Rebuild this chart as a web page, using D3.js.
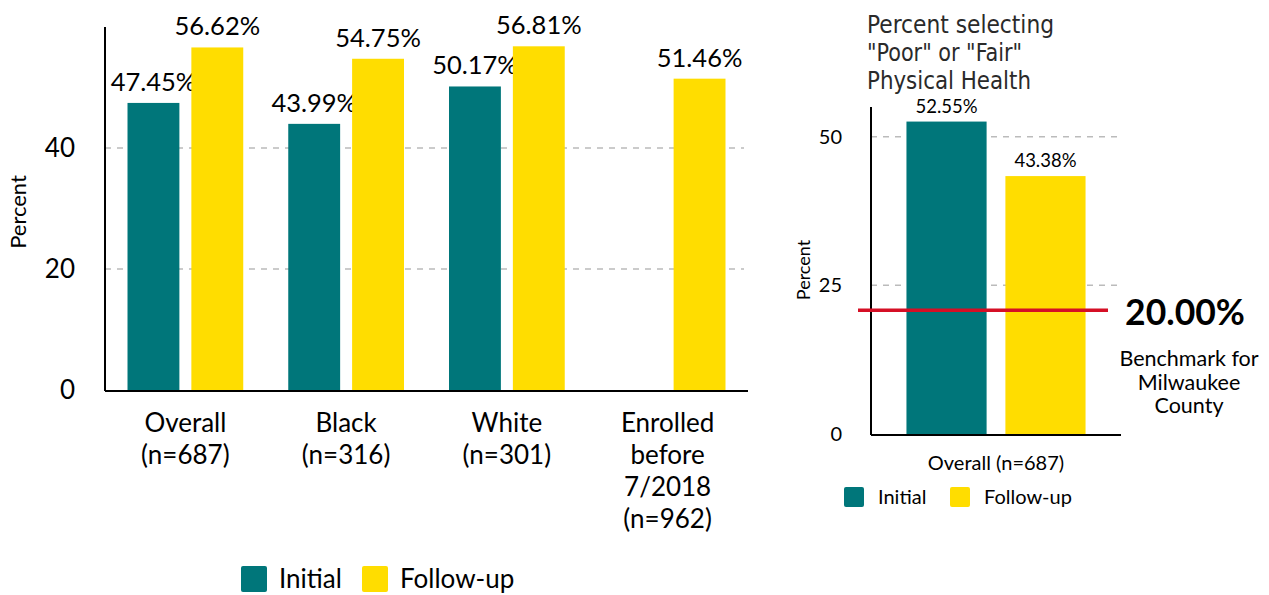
<!DOCTYPE html>
<html>
<head>
<meta charset="utf-8">
<script src="https://cdn.jsdelivr.net/npm/d3@7"></script>
<style>
  body { margin: 0; background: #fff; }
  svg { display: block; font-family: Lato, "Open Sans", sans-serif; }
</style>
</head>
<body>
<svg id="chart" width="1269" height="595"></svg>
<script>
// left chart data
const groups = ["Overall\n(n=687)", "Black\n(n=316)", "White\n(n=301)", "Enrolled\nbefore\n7/2018\n(n=962)"];
const initialVals = [47.45, 43.99, 50.17, null];
const followVals = [56.62, 54.75, 56.81, 51.46];
const leftTicks = [0, 20, 40];

// right chart data
const rightGroups = ["Overall (n=687)"];
const rightInitial = [52.55];
const rightFollow = [43.38];
const rightTicks = [0, 25, 50];
const benchmarkLabel = "20.00%";
const benchmarkLine = 20.8; // where the red rule sits in the picture
const benchmarkText = ["Benchmark for", "Milwaukee", "County"];
const titleLines = ["Percent selecting", "\"Poor\" or \"Fair\"", "Physical Health"];
const titleWidths = [187, 155, 164];

const series = ["Initial", "Follow-up"];
const colors = {"Initial": "#00767A", "Follow-up": "#FFDD00"};

const svg = d3.select("#chart");
const fmt = d => d.toFixed(2) + "%";

// ---------- left chart ----------
const L = {x0: 105, x1: 748, y0: 390, y1: 27};
const xL = d3.scaleBand().domain(groups).range([L.x0, L.x1]).paddingInner(0.28).paddingOuter(0.14);
const xL2 = d3.scaleBand().domain(series).range([0, xL.bandwidth()]).paddingInner(0.1875);
const yL = d3.scaleLinear().domain([0, 60]).range([L.y0, L.y1]);

const left = svg.append("g");

left.append("g")
  .selectAll("line")
  .data(leftTicks.filter(d => d > 0))
  .join("line")
  .attr("x1", L.x0).attr("x2", 744)
  .attr("y1", d => yL(d)).attr("y2", d => yL(d))
  .attr("stroke", "#bbb").attr("stroke-width", 1.5)
  .attr("stroke-dasharray", "6,6");

left.append("g")
  .selectAll("text")
  .data(leftTicks)
  .join("text")
  .attr("x", L.x0 - 30)
  .attr("y", d => yL(d))
  .attr("dy", "0.35em")
  .attr("text-anchor", "end")
  .attr("font-size", 26)
  .text(d => d);

const leftRows = groups.map((g, i) => ({g, vals: [initialVals[i], followVals[i]]}));
const gL = left.append("g").selectAll("g")
  .data(leftRows)
  .join("g")
  .attr("transform", d => `translate(${xL(d.g)},0)`);

const barsL = gL.selectAll("g")
  .data(d => series.map((s, j) => ({s, v: d.vals[j]})).filter(e => e.v != null))
  .join("g");

barsL.append("rect")
  .attr("x", d => xL2(d.s))
  .attr("width", xL2.bandwidth())
  .attr("y", d => yL(d.v))
  .attr("height", d => yL(0) - yL(d.v))
  .attr("fill", d => colors[d.s]);

barsL.append("text")
  .attr("x", d => xL2(d.s) + xL2.bandwidth() / 2)
  .attr("y", d => yL(d.v) - 12)
  .attr("text-anchor", "middle")
  .attr("font-size", 25.5)
  .text(d => fmt(d.v));

left.append("line")
  .attr("x1", L.x0).attr("x2", L.x0)
  .attr("y1", L.y1).attr("y2", L.y0 + 1)
  .attr("stroke", "#000").attr("stroke-width", 2);
left.append("line")
  .attr("x1", L.x0).attr("x2", L.x1)
  .attr("y1", L.y0 + 1).attr("y2", L.y0 + 1)
  .attr("stroke", "#000").attr("stroke-width", 2);

left.append("g")
  .selectAll("text")
  .data(groups)
  .join("text")
  .attr("x", d => xL(d) + xL.bandwidth() / 2)
  .attr("y", 432)
  .attr("text-anchor", "middle")
  .attr("font-size", 26)
  .each(function(d) {
    d3.select(this).selectAll("tspan")
      .data(d.split("\n"))
      .join("tspan")
      .attr("x", xL(d) + xL.bandwidth() / 2)
      .attr("dy", (t, i) => i ? 32 : 0)
      .text(t => t);
  });

left.append("text")
  .attr("transform", "translate(26,212) rotate(-90)")
  .attr("text-anchor", "middle")
  .attr("font-size", 22)
  .text("Percent");

const legL = left.append("g").attr("transform", "translate(241,566)");
[{s: "Initial", x: 0}, {s: "Follow-up", x: 121}].forEach(d => {
  legL.append("rect").attr("x", d.x).attr("width", 26).attr("height", 26)
    .attr("rx", 2).attr("fill", colors[d.s]);
  legL.append("text").attr("x", d.x + 38).attr("y", 13).attr("dy", "0.35em")
    .attr("font-size", 26).text(d.s);
});

// ---------- right chart ----------
const R = {x0: 871, x1: 1121, y0: 434, y1: 107};
const xR = d3.scaleBand().domain(rightGroups).range([R.x0, R.x1]).paddingInner(0).paddingOuter(0.198);
const xR2 = d3.scaleBand().domain(series).range([0, xR.bandwidth()]).paddingInner(0.19);
const yR = d3.scaleLinear().domain([0, 55]).range([R.y0, R.y1]);

const right = svg.append("g");

right.append("g")
  .selectAll("text")
  .data(titleLines)
  .join("text")
  .attr("x", 867)
  .attr("y", (d, i) => 33 + i * 28)
  .attr("font-family", "'DejaVu Sans Condensed', 'DejaVu Sans', sans-serif")
  .attr("font-stretch", "condensed")
  .attr("font-weight", 300)
  .attr("font-size", 25)
  .attr("textLength", (d, i) => titleWidths[i])
  .attr("lengthAdjust", "spacingAndGlyphs")
  .attr("fill", "#2a2a2a")
  .text(d => d);

right.append("g")
  .selectAll("line")
  .data(rightTicks.filter(d => d > 0))
  .join("line")
  .attr("x1", R.x0).attr("x2", 1118)
  .attr("y1", d => yR(d)).attr("y2", d => yR(d))
  .attr("stroke", "#bbb").attr("stroke-width", 1.5)
  .attr("stroke-dasharray", "6,6");

right.append("g")
  .selectAll("text")
  .data(rightTicks)
  .join("text")
  .attr("x", R.x0 - 29)
  .attr("y", d => yR(d))
  .attr("dy", "0.35em")
  .attr("text-anchor", "end")
  .attr("font-size", 20)
  .text(d => d);

const rightRows = rightGroups.map((g, i) => ({g, vals: [rightInitial[i], rightFollow[i]]}));
const gR = right.append("g").selectAll("g")
  .data(rightRows)
  .join("g")
  .attr("transform", d => `translate(${xR(d.g)},0)`);

const barsR = gR.selectAll("g")
  .data(d => series.map((s, j) => ({s, v: d.vals[j]})))
  .join("g");

barsR.append("rect")
  .attr("x", d => xR2(d.s))
  .attr("width", xR2.bandwidth())
  .attr("y", d => yR(d.v))
  .attr("height", d => yR(0) - yR(d.v))
  .attr("fill", d => colors[d.s]);

barsR.append("text")
  .attr("x", d => xR2(d.s) + xR2.bandwidth() / 2)
  .attr("y", d => yR(d.v) - 9)
  .attr("text-anchor", "middle")
  .attr("font-size", 18.5)
  .text(d => fmt(d.v));

right.append("line")
  .attr("x1", R.x0).attr("x2", R.x0)
  .attr("y1", R.y1).attr("y2", R.y0 + 1)
  .attr("stroke", "#000").attr("stroke-width", 2);
right.append("line")
  .attr("x1", R.x0).attr("x2", R.x1)
  .attr("y1", R.y0 + 1).attr("y2", R.y0 + 1)
  .attr("stroke", "#000").attr("stroke-width", 2);

right.append("line")
  .attr("x1", 858).attr("x2", 1108)
  .attr("y1", yR(benchmarkLine)).attr("y2", yR(benchmarkLine))
  .attr("stroke", "#D50F25").attr("stroke-width", 3.5);

right.append("text")
  .attr("x", 1185).attr("y", 325)
  .attr("text-anchor", "middle")
  .attr("font-size", 35.5).attr("font-weight", "bold")
  .text(benchmarkLabel);

right.append("g")
  .selectAll("text")
  .data(benchmarkText)
  .join("text")
  .attr("x", 1189)
  .attr("y", (d, i) => 366 + i * 23.5)
  .attr("text-anchor", "middle")
  .attr("font-size", 21.5)
  .text(d => d);

right.append("g")
  .selectAll("text")
  .data(rightGroups)
  .join("text")
  .attr("x", d => xR(d) + xR.bandwidth() / 2)
  .attr("y", 463)
  .attr("dy", "0.35em")
  .attr("text-anchor", "middle")
  .attr("font-size", 20)
  .text(d => d);

right.append("text")
  .attr("transform", "translate(810,270) rotate(-90)")
  .attr("text-anchor", "middle")
  .attr("font-size", 18)
  .text("Percent");

const legR = right.append("g").attr("transform", "translate(844,487)");
[{s: "Initial", x: 0}, {s: "Follow-up", x: 106}].forEach(d => {
  legR.append("rect").attr("x", d.x).attr("width", 20).attr("height", 20)
    .attr("rx", 2).attr("fill", colors[d.s]);
  legR.append("text").attr("x", d.x + 34).attr("y", 10).attr("dy", "0.35em")
    .attr("font-size", 20).text(d.s);
});
</script>
</body>
</html>
